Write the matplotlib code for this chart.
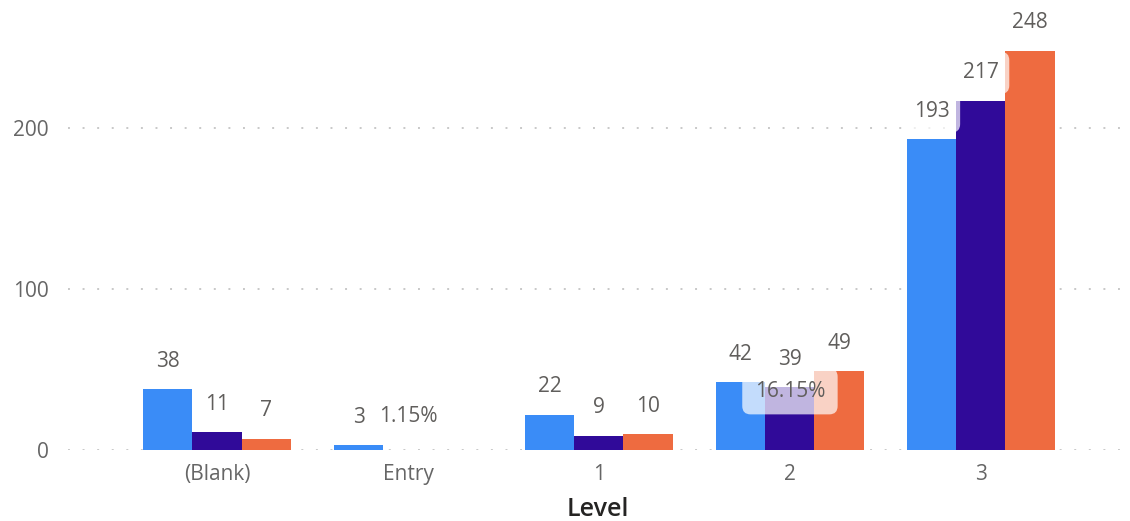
import numpy as np
import matplotlib
matplotlib.use("Agg")
import matplotlib.pyplot as plt

# data
levels = ["(Blank)", "Entry", "1", "2", "3"]
series_a = [38, 3, 22, 42, 193]
series_b = [11, None, 9, 39, 217]
series_c = [7, None, 10, 49, 248]
pct_labels = [("Entry", "1.15%"), ("2", "16.15%")]
y_ticks = [0, 100, 200]

colors = ["#3A8CF7", "#300A99", "#EE6B40"]
label_color = "#605E5C"

plt.rcParams["font.family"] = ["Open Sans", "DejaVu Sans"]

fig = plt.figure(figsize=(11.3, 5.21), dpi=100)
ax = fig.add_axes([68 / 1130, 71 / 521, 1060 / 1130, 450 / 521])

x = np.arange(len(levels))
width = 0.257
offsets = [-width, 0, width]
box = dict(boxstyle="round,pad=0.5,rounding_size=0.4", fc="white", ec="none", alpha=0.7)

for vals, off, col in zip([series_a, series_b, series_c], offsets, colors):
    h = np.array([np.nan if v is None else v for v in vals], dtype=float)
    ax.bar(x + off, h, width=width, color=col, zorder=2)
    for xi, v in zip(x, vals):
        if v is None:
            continue
        ax.annotate(str(v), (xi + off, v), xytext=(0, 20), textcoords="offset points",
                    ha="center", va="center", fontsize=15, color=label_color,
                    bbox=box, zorder=5)

# extra percentage labels sitting on the middle slot
pct_offsets = {"Entry": 24, "2": -3}
for cat, txt in pct_labels:
    i = levels.index(cat)
    base = series_b[i] or 0
    ax.annotate(txt, (x[i], base), xytext=(0, pct_offsets[cat]), textcoords="offset points",
                ha="center", va="center", fontsize=15, color=label_color,
                bbox=dict(boxstyle="round,pad=0.6,rounding_size=0.4", fc="white",
                          ec="none", alpha=0.7), zorder=5)

ax.set_xlim(-0.78, 4.77)
ax.set_ylim(0, 279.5)
ax.set_xticks(x)
ax.set_xticklabels(levels)
ax.set_yticks(y_ticks)
ax.tick_params(axis="both", length=0, labelsize=15, labelcolor="#666666")
ax.tick_params(axis="x", pad=10)
ax.tick_params(axis="y", pad=14)
for s in ax.spines.values():
    s.set_visible(False)
ax.yaxis.grid(True, color="#C8C8C8", linestyle=(0, (1, 6.5)), linewidth=1.4, zorder=0)
ax.set_axisbelow(True)
ax.set_xlabel("Level", fontsize=18, fontweight="semibold", color="#252423", labelpad=9)

fig.savefig("out.png", dpi=100)
